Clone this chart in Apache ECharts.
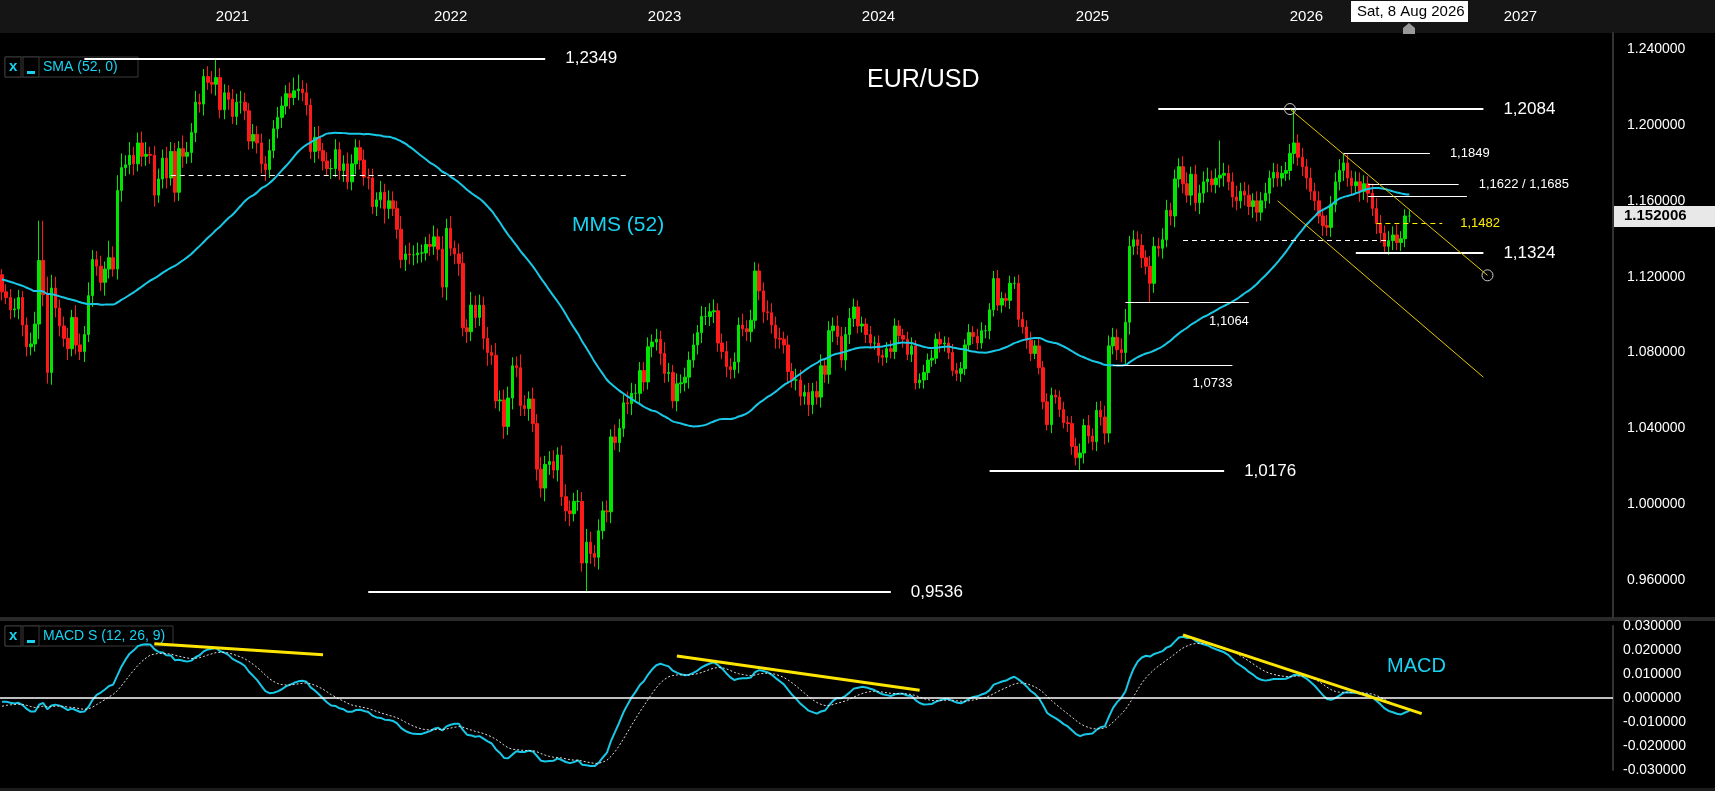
<!DOCTYPE html>
<html>
<head>
<meta charset="utf-8">
<script src="https://cdn.jsdelivr.net/npm/echarts@6/dist/echarts.min.js"></script>
<style>
  html, body { margin: 0; padding: 0; background: #000; }
  #chart { width: 1715px; height: 791px; }
</style>
</head>
<body>
<div id="chart"></div>
<script>
// weekly closes x 10000, 2019 (only used to seed SMA / MACD)
const closesPrev = [11470,11465,11365,11405,11455,11325,11335,11335,11365,11240,11325,11305,
  11215,11295,11300,11150,11200,11235,11160,11195,11170,11330,11280,11210,11370,
  11220,11270,11220,11130,11080,11110,11150,11090,11080,11035,11025,11070,11020,11015,
  10975,11045,11170,11080,11165,11015,11050,11055,11020,11060,11120,11080,11210];

// weekly closes x 10000, from week of 6 Jan 2020
const closes2020 = [11120,11090,11025,11030,11090, 10945,10830,10845,10950, 11285,11105,10695,11140,11035,
  10940,10875,10820,10985, 10840,10805,10895,11100, 11290,11255,11170,11240, 11300,11240,11655,11775,
  11790,11840,11795,11905,11835, 11845,11840,11630,11715, 11825,11720,11860,11645,
  11875,11835,11855,11960,12120, 12110,12255,12225,12215];
const closes2021 = [12250,12080,12170,12135, 12045,12120,12120,12075, 11915,11950,11905,11795,11765,
  11865,11980,12040,12100, 12165,12145,12180,12190,12170, 12105,11860,11935,11865, 11810,11770,11770,11870,
  11760,11795,11700,11795, 11880,11815,11725,11720, 11570,11605,11645,11560,11600,
  11560,11450,11290,11320,11315, 11315,11325,11325,11370];
const closes2022 = [11360,11410,11345,11145, 11455,11350,11320,11270, 10930,10910,11050,10985,
  11050,10875,10800,10785,10545, 10550,10410,10560,10730, 10720,10520,10505,10555,
  10425,10185,10085,10210,10225, 10180,10260,10040,9965, 9950,10015,10015,9690,9800,
  9740,9720,9860,9965,9960, 10355,10325,10400,10535, 10530,10585,10585,10705];
const closes2023 = [10645,10830,10855,10870, 10795,10690,10695,10545, 10635,10640,10670,10760,10840,
  10905,10990,10990,11015, 11020,10850,10805,10725,10710, 10750,10945,10925,10910,
  10970,11230,11125,11015,11010, 10945,10875,10870,10840, 10700,10655,10655,10570,
  10590,10525,10595,10565,10730, 10685,10915,10940,10885, 10760,10895,10980,11040];
const closes2024 = [10940,10950,10895,10850,10850, 10785,10775,10820,10805, 10940,10890,10870,10790,
  10835,10640,10655,10695,10760, 10770,10870,10845,10850, 10800,10705,10690,10715,
  10840,10905,10885,10850,10915, 10915,11025,11190,11050, 11085,11075,11165,11165,10975,
  10935,10865,10795,10835, 10720,10540,10420,10575, 10565,10500,10430,10425];
const closes2025 = [10305, 10245,10270,10415,10360, 10330,10495,10460,10375, 10835,10880,10815,10800,10960,
  11360,11395,11365,11300, 11255,11165,11360,11350, 11395,11550,11520,11715, 11780,11690,11630,11740,11590,
  11640,11700,11715,11685, 11720,11735,11745,11700, 11620,11600,11650,11630,
  11570,11600,11540,11600, 11640,11720,11750,11720];
const closes2026 = [11745, 11760,11850,11905,11830, 11780,11720,11650,11600, 11520,11470,11460,11580,11700,
  11760,11800,11720,11680, 11700,11650,11690,11640, 11560,11480,11430,11360,11390,
  11420,11380,11400,11520, 11520];

// wick above / below the body, pips
const wickUp = [
  30,40,45,55,40,35,40,60,65,210,80,95,70,60,45,50,55,40,65,60,45,70,50,45,55,40,90,60,80,75,50,70,45,55,60,65,40,50,55,45,60,50,45,40,70,55,50,60,45,40,55,60,
  99,50,45,40,55,45,60,50,40,55,45,50,40,60,45,55,50,45,60,70,40,45,50,35,55,60,40,45,50,55,40,45,60,50,45,40,55,45,50,40,60,45,55,50,40,70,45,60,50,55,45,40,
  55,60,45,70,50,65,40,55,60,45,70,50,55,45,60,40,65,50,55,60,45,50,70,55,40,60,50,65,45,55,60,40,50,65,55,45,60,50,70,55,45,60,50,55,40,65,50,45,60,55,50,45,
  45,50,40,55,45,60,50,40,55,45,50,45,60,40,55,50,45,60,40,50,55,45,50,40,60,45,55,50,40,45,60,50,45,55,40,50,45,60,55,40,50,45,55,60,40,50,45,55,50,40,55,45,
  35,40,30,45,35,40,30,35,45,40,30,35,40,45,30,35,40,35,45,30,40,35,30,45,40,35,30,45,35,40,45,30,35,40,45,35,30,40,35,45,40,35,45,30,40,35,45,40,30,35,40,35,
  40,45,50,35,55,40,45,50,60,55,50,45,60,70,55,50,45,60,40,55,50,45,60,55,40,50,45,55,60,40,50,45,55,60,45,50,40,55,45,50,60,45,50,55,40,50,45,55,40,50,45,
  40,45,50,60,45,50,40,55,45,50,40,55,45,50,60,50,45,40,55,50,45,40,50,55,45,40,50,45,55,40,35,30];
const wickDn = [
  45,35,50,40,55,60,50,45,40,80,60,70,65,50,55,45,60,40,50,45,55,40,60,50,45,70,50,40,55,60,45,50,60,40,55,50,45,60,40,50,55,40,50,45,60,40,55,50,45,60,40,50,
  60,45,50,55,40,45,60,50,45,40,55,50,60,45,40,50,55,45,60,40,50,45,55,40,60,45,50,40,55,45,50,60,40,45,55,50,45,60,40,50,45,80,55,40,50,45,60,50,55,45,50,40,
  50,45,60,55,70,40,55,65,45,60,50,55,45,60,70,50,40,55,65,45,60,50,55,40,65,45,60,50,70,55,45,60,50,55,65,40,50,45,60,55,50,65,45,55,60,40,50,45,55,60,40,50,
  50,40,55,45,60,50,45,40,55,50,45,60,40,50,55,45,50,60,45,40,55,50,45,60,40,50,55,45,50,60,40,45,55,50,45,60,40,55,50,45,60,50,40,55,45,50,60,45,40,55,50,45,
  40,35,45,30,35,40,45,30,35,40,35,45,30,40,35,30,45,40,35,30,45,40,35,30,40,45,35,30,40,35,30,40,45,35,30,40,35,45,30,40,35,45,40,30,35,40,30,45,35,40,30,45,
  45,40,50,55,40,45,50,45,60,50,45,55,50,60,65,45,50,55,45,60,50,45,55,40,50,60,45,50,40,55,45,60,50,55,40,45,50,60,45,55,50,40,55,45,60,50,45,40,55,50,45,
  45,40,50,55,45,50,60,45,50,40,55,45,50,40,45,55,45,50,40,55,45,50,40,55,50,60,45,50,40,45,45,35];

// known extremes: [week index, 'h' | 'l', price]
const pivots = [[10,'h',1.1495],[11,'l',1.0636],[52,'h',1.2349],[72,'h',1.2266],[142,'l',0.9536],
  [183,'h',1.1276],[262,'l',1.0176],[279,'l',1.1064],[296,'h',1.1918],[314,'h',1.2084],[326,'h',1.1849],[336,'l',1.1324]];

// horizontal levels: [price, from week, to week]
const levels = [[1.2349,20,132],[1.2084,281,360],[1.1849,326,347],[1.1685,332,354],[1.1622,332,356],
  [1.1324,329,360],[1.1064,273,303],[1.0733,270,299],[1.0176,240,297],[0.9536,89,216]];
const dashedLevels = [[1.1736,41,152,'#ffffff'],[1.1390,287,337,'#ffffff'],[1.1482,334,350,'#ffee00']];
const channel = [[[313,1.2084],[361,1.1207]],[[310,1.1600],[360,1.0670]]];
const macdTrends = [[[37,0.0226],[78,0.0180]],[[164,0.0175],[223,0.0032]],[[287,0.0263],[345,-0.0065]]];
const lastPrice = 1.152006;
const totalWeeks = 392;

const closes = [].concat(closes2020, closes2021, closes2022, closes2023, closes2024, closes2025, closes2026);
const all = closesPrev.concat(closes).map(v => v / 10000);
const off = closesPrev.length;

const dates = [];
const d0 = new Date(Date.UTC(2020, 0, 6));
for (let i = 0; i < totalWeeks; i++) {
  const d = new Date(d0.getTime() + i * 7 * 86400000);
  dates.push(d.toISOString().slice(0, 10));
}

// candles
const candles = closes.map((c, i) => {
  const o = all[off + i - 1], cl = c / 10000;
  let hi = Math.max(o, cl) + (wickUp[i] || 40) / 10000;
  let lo = Math.min(o, cl) - (wickDn[i] || 40) / 10000;
  pivots.forEach(p => { if (p[0] === i) { if (p[1] === 'h') hi = p[2]; else lo = p[2]; } });
  return [o, cl, lo, hi];
});

// SMA 52
const sma = closes.map((c, i) => {
  const k = off + i;
  let s = 0;
  for (let j = k - 51; j <= k; j++) s += all[j];
  return +(s / 52).toFixed(5);
});

// MACD 12 26 9
function ema(arr, n) {
  const a = 2 / (n + 1), out = [arr[0]];
  for (let i = 1; i < arr.length; i++) out.push(arr[i] * a + out[i - 1] * (1 - a));
  return out;
}
const e12 = ema(all, 12), e26 = ema(all, 26);
const macdAll = e12.map((v, i) => v - e26[i]);
const sigAll = ema(macdAll, 9);
const macd = macdAll.slice(off).map(v => +v.toFixed(5));
const signal = sigAll.slice(off).map(v => +v.toFixed(5));

const FONT = "'Liberation Sans Narrow', 'Liberation Sans', Arial, sans-serif";

function lvlLine(l) {
  const big = [1.2349, 1.2084, 1.1324, 1.0176, 0.9536].indexOf(l[0]) >= 0;
  const below = l[0] === 1.1064 || l[0] === 1.0733;
  let txt = l[0].toFixed(4).replace('.', ',');
  if (l[0] === 1.1685) txt = '1,1622 / 1,1685';
  if (l[0] === 1.1622) txt = '';
  return [{
    coord: [dates[l[1]], l[0]],
    lineStyle: { color: '#fff', width: big ? 2 : 1, type: 'solid' },
    label: {
      show: true, formatter: txt, color: '#fff', fontFamily: FONT,
      fontSize: big ? 17 : 13,
      position: below ? 'insideEndBottom' : 'end', distance: below ? [0, 12] : 20
    }
  }, { coord: [dates[l[2]], l[0]] }];
}

const markLines = levels.map(lvlLine)
  .concat(dashedLevels.map(l => [{
    coord: [dates[l[1]], l[0]],
    lineStyle: { color: l[3], width: 1, type: [5, 4] },
    label: { show: l[3] !== '#ffffff', formatter: '1,1482', color: l[3], fontFamily: FONT, fontSize: 13, position: 'end', distance: 18 }
  }, { coord: [dates[l[2]], l[0]] }]))
  .concat(channel.map(c => [{
    coord: [dates[c[0][0]], c[0][1]], lineStyle: { color: '#e6c800', width: 1, type: 'solid' }, label: { show: false }
  }, { coord: [dates[c[1][0]], c[1][1]] }]));

const chart = echarts.init(document.getElementById('chart'));
chart.setOption({
  backgroundColor: '#000',
  animation: false,
  graphic: [
    { id: 'topbar', type: 'rect', shape: { x: 0, y: 0, width: 1715, height: 33 }, style: { fill: '#151515' }, z: -1 },
    { id: 'sep', type: 'rect', shape: { x: 0, y: 617, width: 1715, height: 4 }, style: { fill: '#2a2a2a' } },
    { id: 'botbar', type: 'rect', shape: { x: 0, y: 788, width: 1715, height: 3 }, style: { fill: '#1c1c1c' } },
    { id: 'dateBox', type: 'rect', shape: { x: 1351, y: 1, width: 117, height: 21 }, style: { fill: '#fff' }, z: 10 },
    { id: 'dateTxt', type: 'text', x: 1357, y: 4, style: { text: 'Sat, 8 Aug 2026', fill: '#000', font: '15px ' + FONT }, z: 11 },
    { id: 'marker', type: 'polygon', shape: { points: [[1403, 34], [1403, 28], [1409, 23], [1415, 28], [1415, 34]] }, style: { fill: '#999' }, z: 10 },
    { id: 'title', type: 'text', x: 867, y: 68, style: { text: 'EUR/USD', fill: '#fff', font: '25px ' + FONT } },
    { id: 'mms', type: 'text', x: 572, y: 215, style: { text: 'MMS (52)', fill: '#19d2f0', font: '21px ' + FONT } },
    { id: 'macdTxt', type: 'text', x: 1387, y: 656, style: { text: 'MACD', fill: '#19d2f0', font: '20px ' + FONT } },
    { id: 'smaLeg', type: 'group', x: 5, y: 57, children: [
      { type: 'rect', shape: { x: 0, y: 0, width: 133, height: 20 }, style: { fill: '#000', stroke: '#3a3a3a' } },
      { type: 'rect', shape: { x: 0, y: 0, width: 16, height: 20 }, style: { fill: '#000', stroke: '#3a3a3a' } },
      { type: 'rect', shape: { x: 18, y: 0, width: 16, height: 20 }, style: { fill: '#000', stroke: '#3a3a3a' } },
      { type: 'text', x: 4, y: 2, style: { text: 'x', fill: '#19d2f0', font: 'bold 15px ' + FONT } },
      { type: 'rect', shape: { x: 22, y: 14, width: 8, height: 3 }, style: { fill: '#19d2f0' } },
      { type: 'text', x: 38, y: 3, style: { text: 'SMA (52, 0)', fill: '#19d2f0', font: '14px ' + FONT } }
    ] },
    { id: 'macdLeg', type: 'group', x: 5, y: 626, children: [
      { type: 'rect', shape: { x: 0, y: 0, width: 168, height: 20 }, style: { fill: '#000', stroke: '#3a3a3a' } },
      { type: 'rect', shape: { x: 0, y: 0, width: 16, height: 20 }, style: { fill: '#000', stroke: '#3a3a3a' } },
      { type: 'rect', shape: { x: 18, y: 0, width: 16, height: 20 }, style: { fill: '#000', stroke: '#3a3a3a' } },
      { type: 'text', x: 4, y: 2, style: { text: 'x', fill: '#19d2f0', font: 'bold 15px ' + FONT } },
      { type: 'rect', shape: { x: 22, y: 14, width: 8, height: 3 }, style: { fill: '#19d2f0' } },
      { type: 'text', x: 38, y: 3, style: { text: 'MACD S (12, 26, 9)', fill: '#19d2f0', font: '14px ' + FONT } }
    ] }
  ],
  grid: [
    { left: 0, right: 102, top: 33, height: 585 },
    { left: 0, right: 102, top: 626, height: 144 }
  ],
  xAxis: [
    {
      type: 'category', data: dates, gridIndex: 0, position: 'top', boundaryGap: true,
      axisLine: { show: false }, axisTick: { show: false }, splitLine: { show: false },
      axisLabel: {
        color: '#fff', fontSize: 15, fontFamily: FONT, margin: 9,
        interval: (i, v) => v.slice(5, 7) === '02' && +v.slice(8, 10) <= 7 && v.slice(0, 4) !== '2020',
        formatter: v => v.slice(0, 4)
      }
    },
    {
      type: 'category', data: dates, gridIndex: 1, boundaryGap: true,
      axisLine: { show: false }, axisTick: { show: false }, axisLabel: { show: false }
    }
  ],
  yAxis: [
    {
      type: 'value', gridIndex: 0, position: 'right', min: 0.94, max: 1.2485, interval: 0.02,
      axisLine: { show: true, lineStyle: { color: '#333', width: 2 } }, axisTick: { show: false },
      splitLine: { show: false },
      axisLabel: {
        color: '#fff', fontSize: 14, fontFamily: FONT, margin: 14,
        formatter: v => (Math.round(v * 100) % 4 === 0 && v < 1.245) ? v.toFixed(6) : ''
      }
    },
    {
      type: 'value', gridIndex: 1, position: 'right', min: -0.03, max: 0.03, interval: 0.01,
      axisLine: { show: true, lineStyle: { color: '#333', width: 2 } }, axisTick: { show: false },
      splitLine: { show: false },
      axisLabel: { color: '#fff', fontSize: 14, fontFamily: FONT, margin: 10, formatter: v => v.toFixed(6) }
    }
  ],
  series: [
    {
      type: 'candlestick', xAxisIndex: 0, yAxisIndex: 0, data: candles, barWidth: 3,
      itemStyle: { color: '#00e600', color0: '#ff1a1a', borderColor: '#00e600', borderColor0: '#ff1a1a', borderWidth: 1 },
      markLine: { silent: true, symbol: ['none', 'none'], data: markLines },
      markPoint: {
        silent: true, symbol: 'circle', symbolSize: 11,
        itemStyle: { color: 'rgba(0,0,0,0)', borderColor: '#ccc', borderWidth: 1 },
        label: { show: false },
        data: [{ coord: [dates[313], 1.2084] }, { coord: [dates[361], 1.1207] }]
      }
    },
    {
      type: 'line', xAxisIndex: 0, yAxisIndex: 0, data: sma, showSymbol: false, smooth: true,
      lineStyle: { color: '#19c8e6', width: 2 }
    },
    {
      type: 'line', xAxisIndex: 1, yAxisIndex: 1, data: macd, showSymbol: false,
      lineStyle: { color: '#19c8e6', width: 2 },
      markLine: {
        silent: true, symbol: ['none', 'none'],
        data: [[{ yAxis: 0, x: 0, lineStyle: { color: '#fff', width: 1.5, type: 'solid' }, label: { show: false } }, { yAxis: 0, x: 1613 }]]
          .concat(macdTrends.map(t => [{
            coord: [dates[t[0][0]], t[0][1]], lineStyle: { color: '#ffe600', width: 3, type: 'solid' }, label: { show: false }
          }, { coord: [dates[t[1][0]], t[1][1]] }]))
      }
    },
    {
      type: 'line', xAxisIndex: 1, yAxisIndex: 1, data: signal, showSymbol: false,
      lineStyle: { color: '#ddd', width: 1, type: [2, 2] }
    }
  ]
});

// last price tag on the price axis
const py = chart.convertToPixel({ yAxisIndex: 0 }, lastPrice);
chart.setOption({
  graphic: [
    { id: 'priceBox', type: 'rect', shape: { x: 1614, y: py - 10, width: 101, height: 21 }, style: { fill: '#e8e8e8' }, z: 20 },
    { id: 'priceTxt', type: 'text', x: 1624, y: py - 8, style: { text: lastPrice.toFixed(6), fill: '#000', font: 'bold 15px ' + FONT }, z: 21 }
  ]
});
</script>
</body>
</html>
